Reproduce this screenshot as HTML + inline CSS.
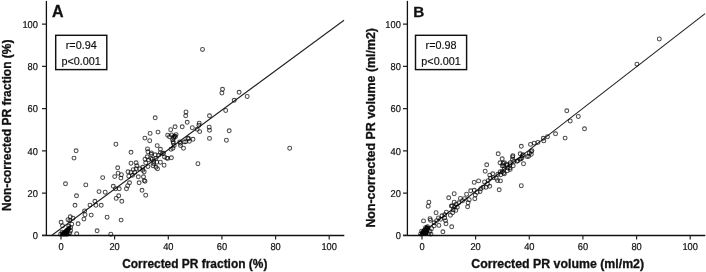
<!DOCTYPE html>
<html><head><meta charset="utf-8"><style>
html,body{margin:0;padding:0;background:#fff;}
svg{display:block;will-change:transform;}
text{font-family:"Liberation Sans",sans-serif;fill:#111;}
.tl{text-rendering:geometricPrecision;font-size:10.0px;stroke:#111;stroke-width:0.22px;}
.bt{font-size:10.8px;stroke:#111;stroke-width:0.18px;}
.pl{font-size:16px;font-weight:bold;stroke:#111;stroke-width:0.3px;}
.at{font-size:12px;font-weight:bold;stroke:#111;stroke-width:0.3px;}
</style></head><body>
<svg width="706" height="272" viewBox="0 0 706 272">
<path d="M46.4 0.9V235.5" stroke="#111" stroke-width="1.3" fill="none"/><path d="M42 235.5H344.3" stroke="#111" stroke-width="1.3" fill="none"/>
<path d="M42 235.3H46.4M61.0 235.3V239.6M42 193.1H46.4M114.6 235.3V239.6M42 150.8H46.4M168.3 235.3V239.6M42 108.6H46.4M221.9 235.3V239.6M42 66.3H46.4M275.6 235.3V239.6M42 24.1H46.4M329.2 235.3V239.6" stroke="#222" stroke-width="1.2" fill="none"/>
<text transform="translate(37.9 239.0) scale(0.93 1)" class="tl" text-anchor="end">0</text>
<text transform="translate(61.0 250.1) scale(0.93 1)" class="tl" text-anchor="middle">0</text>
<text transform="translate(37.9 196.8) scale(0.93 1)" class="tl" text-anchor="end">20</text>
<text transform="translate(114.6 250.1) scale(0.93 1)" class="tl" text-anchor="middle">20</text>
<text transform="translate(37.9 154.5) scale(0.93 1)" class="tl" text-anchor="end">40</text>
<text transform="translate(168.3 250.1) scale(0.93 1)" class="tl" text-anchor="middle">40</text>
<text transform="translate(37.9 112.3) scale(0.93 1)" class="tl" text-anchor="end">60</text>
<text transform="translate(221.9 250.1) scale(0.93 1)" class="tl" text-anchor="middle">60</text>
<text transform="translate(37.9 70.0) scale(0.93 1)" class="tl" text-anchor="end">80</text>
<text transform="translate(275.6 250.1) scale(0.93 1)" class="tl" text-anchor="middle">80</text>
<text transform="translate(37.9 27.8) scale(0.93 1)" class="tl" text-anchor="end">100</text>
<text transform="translate(329.2 250.1) scale(0.93 1)" class="tl" text-anchor="middle">100</text>
<text x="52" y="17" class="pl">A</text>
<rect x="55.7" y="35.3" width="51.1" height="34.3" fill="#fff" stroke="#111" stroke-width="1.45"/>
<text x="81.2" y="49.2" class="bt" text-anchor="middle">r=0.94</text>
<text x="81.2" y="64.6" class="bt" text-anchor="middle">p&lt;0.001</text>
<path d="M51.9 235.3L344 20.2" stroke="#222" stroke-width="1.1" fill="none"/>
<path d="M59.3 235.1L62.5 231.8L66 228.4L68.5 226.4L70.2 226.2L70.8 228.5L69.8 231L68.6 233L69.5 235.1Z" fill="#111"/>
<g fill="none" stroke="#000" stroke-opacity="0.7" stroke-width="1.05"><circle cx="75.0" cy="205.3" r="1.95"/><circle cx="90.0" cy="205.1" r="1.95"/><circle cx="94.9" cy="201.3" r="1.95"/><circle cx="95.9" cy="205.3" r="1.95"/><circle cx="101.2" cy="205.3" r="1.95"/><circle cx="116.2" cy="198.4" r="1.95"/><circle cx="121.8" cy="201.3" r="1.95"/><circle cx="84.6" cy="210.9" r="1.95"/><circle cx="85.0" cy="214.7" r="1.95"/><circle cx="91.2" cy="215.1" r="1.95"/><circle cx="83.9" cy="219.1" r="1.95"/><circle cx="107.1" cy="217.2" r="1.95"/><circle cx="121.1" cy="220.1" r="1.95"/><circle cx="97.1" cy="230.8" r="1.95"/><circle cx="110.8" cy="234.2" r="1.95"/><circle cx="61.1" cy="222.3" r="1.95"/><circle cx="62.5" cy="225.8" r="1.95"/><circle cx="68.0" cy="219.7" r="1.95"/><circle cx="70.3" cy="216.8" r="1.95"/><circle cx="73.0" cy="218.2" r="1.95"/><circle cx="69.8" cy="220.6" r="1.95"/><circle cx="78.1" cy="223.8" r="1.95"/><circle cx="76.7" cy="233.8" r="1.95"/><circle cx="70.7" cy="227.4" r="1.95"/><circle cx="71.7" cy="224.2" r="1.95"/><circle cx="69.8" cy="232.9" r="1.95"/><circle cx="68.0" cy="229.8" r="1.95"/><circle cx="65.7" cy="231.6" r="1.95"/><circle cx="62.9" cy="233.4" r="1.95"/><circle cx="60.6" cy="234.3" r="1.95"/><circle cx="66.1" cy="234.3" r="1.95"/><circle cx="68.7" cy="226.1" r="1.95"/><circle cx="63.6" cy="234.4" r="1.95"/><circle cx="68.3" cy="233.8" r="1.95"/><circle cx="70.6" cy="230.8" r="1.95"/><circle cx="64.1" cy="232.8" r="1.95"/><circle cx="66.6" cy="231.2" r="1.95"/><circle cx="67.1" cy="234.1" r="1.95"/><circle cx="65.1" cy="233.2" r="1.95"/><circle cx="69.1" cy="228.2" r="1.95"/><circle cx="62.1" cy="232.1" r="1.95"/><circle cx="66.9" cy="230.1" r="1.95"/><circle cx="74.0" cy="158.1" r="1.95"/><circle cx="65.5" cy="183.8" r="1.95"/><circle cx="85.8" cy="184.9" r="1.95"/><circle cx="76.5" cy="195.8" r="1.95"/><circle cx="102.7" cy="177.6" r="1.95"/><circle cx="99.0" cy="191.6" r="1.95"/><circle cx="105.2" cy="192.2" r="1.95"/><circle cx="118.7" cy="195.8" r="1.95"/><circle cx="113.3" cy="186.3" r="1.95"/><circle cx="115.5" cy="188.7" r="1.95"/><circle cx="119.2" cy="188.8" r="1.95"/><circle cx="117.7" cy="167.8" r="1.95"/><circle cx="114.7" cy="176.6" r="1.95"/><circle cx="118.1" cy="173.2" r="1.95"/><circle cx="121.4" cy="174.7" r="1.95"/><circle cx="120.9" cy="178.1" r="1.95"/><circle cx="142.0" cy="190.3" r="1.95"/><circle cx="126.5" cy="188.7" r="1.95"/><circle cx="127.7" cy="185.7" r="1.95"/><circle cx="145.7" cy="195.2" r="1.95"/><circle cx="197.9" cy="163.7" r="1.95"/><circle cx="131.0" cy="152.3" r="1.95"/><circle cx="147.5" cy="148.9" r="1.95"/><circle cx="157.2" cy="145.6" r="1.95"/><circle cx="160.4" cy="149.3" r="1.95"/><circle cx="147.9" cy="151.8" r="1.95"/><circle cx="151.3" cy="154.3" r="1.95"/><circle cx="155.2" cy="154.8" r="1.95"/><circle cx="158.6" cy="155.2" r="1.95"/><circle cx="160.4" cy="152.7" r="1.95"/><circle cx="163.6" cy="153.3" r="1.95"/><circle cx="164.5" cy="157.1" r="1.95"/><circle cx="167.7" cy="158.4" r="1.95"/><circle cx="171.4" cy="157.8" r="1.95"/><circle cx="172.9" cy="148.2" r="1.95"/><circle cx="147.2" cy="156.8" r="1.95"/><circle cx="145.0" cy="159.2" r="1.95"/><circle cx="148.6" cy="159.9" r="1.95"/><circle cx="152.3" cy="159.2" r="1.95"/><circle cx="156.0" cy="158.4" r="1.95"/><circle cx="156.7" cy="162.2" r="1.95"/><circle cx="153.8" cy="163.7" r="1.95"/><circle cx="160.4" cy="162.2" r="1.95"/><circle cx="164.1" cy="165.2" r="1.95"/><circle cx="156.0" cy="167.3" r="1.95"/><circle cx="153.0" cy="165.8" r="1.95"/><circle cx="157.5" cy="168.8" r="1.95"/><circle cx="145.7" cy="162.8" r="1.95"/><circle cx="147.9" cy="166.6" r="1.95"/><circle cx="142.7" cy="167.3" r="1.95"/><circle cx="131.0" cy="163.2" r="1.95"/><circle cx="136.1" cy="162.8" r="1.95"/><circle cx="136.9" cy="165.8" r="1.95"/><circle cx="139.8" cy="168.8" r="1.95"/><circle cx="136.1" cy="168.8" r="1.95"/><circle cx="133.2" cy="169.6" r="1.95"/><circle cx="128.0" cy="171.8" r="1.95"/><circle cx="131.0" cy="172.4" r="1.95"/><circle cx="134.7" cy="172.4" r="1.95"/><circle cx="142.7" cy="170.2" r="1.95"/><circle cx="144.2" cy="171.8" r="1.95"/><circle cx="128.8" cy="176.2" r="1.95"/><circle cx="132.5" cy="175.3" r="1.95"/><circle cx="138.3" cy="176.8" r="1.95"/><circle cx="143.5" cy="176.8" r="1.95"/><circle cx="144.2" cy="180.6" r="1.95"/><circle cx="139.1" cy="182.8" r="1.95"/><circle cx="145.0" cy="181.2" r="1.95"/><circle cx="129.5" cy="182.8" r="1.95"/><circle cx="76.1" cy="150.8" r="1.95"/><circle cx="115.9" cy="144.2" r="1.95"/><circle cx="144.9" cy="138.1" r="1.95"/><circle cx="155.2" cy="117.8" r="1.95"/><circle cx="186.0" cy="112.0" r="1.95"/><circle cx="185.7" cy="115.8" r="1.95"/><circle cx="209.5" cy="115.8" r="1.95"/><circle cx="225.7" cy="110.5" r="1.95"/><circle cx="187.2" cy="122.3" r="1.95"/><circle cx="175.1" cy="126.8" r="1.95"/><circle cx="182.2" cy="126.8" r="1.95"/><circle cx="192.3" cy="127.7" r="1.95"/><circle cx="199.2" cy="123.2" r="1.95"/><circle cx="198.9" cy="125.2" r="1.95"/><circle cx="170.7" cy="129.7" r="1.95"/><circle cx="158.0" cy="132.1" r="1.95"/><circle cx="150.1" cy="133.4" r="1.95"/><circle cx="149.7" cy="140.7" r="1.95"/><circle cx="167.7" cy="135.2" r="1.95"/><circle cx="171.7" cy="134.9" r="1.95"/><circle cx="176.1" cy="134.6" r="1.95"/><circle cx="175.4" cy="136.8" r="1.95"/><circle cx="173.6" cy="138.2" r="1.95"/><circle cx="173.2" cy="141.8" r="1.95"/><circle cx="174.2" cy="145.6" r="1.95"/><circle cx="171.0" cy="149.2" r="1.95"/><circle cx="197.2" cy="129.3" r="1.95"/><circle cx="199.7" cy="131.6" r="1.95"/><circle cx="209.2" cy="127.2" r="1.95"/><circle cx="209.5" cy="130.2" r="1.95"/><circle cx="229.2" cy="130.8" r="1.95"/><circle cx="209.5" cy="138.4" r="1.95"/><circle cx="226.4" cy="140.2" r="1.95"/><circle cx="187.9" cy="138.2" r="1.95"/><circle cx="193.0" cy="139.3" r="1.95"/><circle cx="189.4" cy="141.2" r="1.95"/><circle cx="185.7" cy="141.8" r="1.95"/><circle cx="180.5" cy="143.3" r="1.95"/><circle cx="180.5" cy="145.6" r="1.95"/><circle cx="183.5" cy="148.2" r="1.95"/><circle cx="172.5" cy="139.7" r="1.95"/><circle cx="173.9" cy="136.8" r="1.95"/><circle cx="169.5" cy="136.8" r="1.95"/><circle cx="173.3" cy="143.2" r="1.95"/><circle cx="179.7" cy="141.9" r="1.95"/><circle cx="184.2" cy="141.9" r="1.95"/><circle cx="188.7" cy="138.8" r="1.95"/><circle cx="162.3" cy="153.6" r="1.95"/><circle cx="151.4" cy="152.9" r="1.95"/><circle cx="166.8" cy="158.1" r="1.95"/><circle cx="222.5" cy="89.3" r="1.95"/><circle cx="221.9" cy="93.0" r="1.95"/><circle cx="239.1" cy="92.3" r="1.95"/><circle cx="234.2" cy="100.3" r="1.95"/><circle cx="247.2" cy="96.5" r="1.95"/><circle cx="289.7" cy="148.2" r="1.95"/><circle cx="202.5" cy="49.4" r="1.95"/><circle cx="174.7" cy="136.1" r="1.95"/><circle cx="150.9" cy="158.4" r="1.95"/><circle cx="153.7" cy="161.4" r="1.95"/></g>
<text x="122.2" y="267.8" class="at" textLength="145.2" lengthAdjust="spacingAndGlyphs">Corrected PR fraction (%)</text>
<text transform="translate(10.9 211.0) rotate(-90)" x="0" y="0" class="at" textLength="171.5" lengthAdjust="spacingAndGlyphs">Non-corrected PR fraction (%)</text>
<path d="M407.4 0.9V235.5" stroke="#111" stroke-width="1.3" fill="none"/><path d="M403 235.5H705.3" stroke="#111" stroke-width="1.3" fill="none"/>
<path d="M403 235.3H407.4M422.0 235.3V239.6M403 193.1H407.4M475.6 235.3V239.6M403 150.8H407.4M529.3 235.3V239.6M403 108.6H407.4M582.9 235.3V239.6M403 66.3H407.4M636.6 235.3V239.6M403 24.1H407.4M690.2 235.3V239.6" stroke="#222" stroke-width="1.2" fill="none"/>
<text transform="translate(400.79999999999995 239.0) scale(0.93 1)" class="tl" text-anchor="end">0</text>
<text transform="translate(422.0 250.1) scale(0.93 1)" class="tl" text-anchor="middle">0</text>
<text transform="translate(400.79999999999995 196.8) scale(0.93 1)" class="tl" text-anchor="end">20</text>
<text transform="translate(475.6 250.1) scale(0.93 1)" class="tl" text-anchor="middle">20</text>
<text transform="translate(400.79999999999995 154.5) scale(0.93 1)" class="tl" text-anchor="end">40</text>
<text transform="translate(529.3 250.1) scale(0.93 1)" class="tl" text-anchor="middle">40</text>
<text transform="translate(400.79999999999995 112.3) scale(0.93 1)" class="tl" text-anchor="end">60</text>
<text transform="translate(582.9 250.1) scale(0.93 1)" class="tl" text-anchor="middle">60</text>
<text transform="translate(400.79999999999995 70.0) scale(0.93 1)" class="tl" text-anchor="end">80</text>
<text transform="translate(636.6 250.1) scale(0.93 1)" class="tl" text-anchor="middle">80</text>
<text transform="translate(400.79999999999995 27.8) scale(0.93 1)" class="tl" text-anchor="end">100</text>
<text transform="translate(690.2 250.1) scale(0.93 1)" class="tl" text-anchor="middle">100</text>
<text x="413.3" y="16.9" class="pl" style="font-size:15.3px">B</text>
<rect x="415.5" y="35.3" width="51.1" height="34.3" fill="#fff" stroke="#111" stroke-width="1.45"/>
<text x="441.0" y="49.2" class="bt" text-anchor="middle">r=0.98</text>
<text x="441.0" y="64.6" class="bt" text-anchor="middle">p&lt;0.001</text>
<path d="M419.0 235.3L705.1 13.6" stroke="#222" stroke-width="1.1" fill="none"/>
<path d="M419.8 235.1L420.2 231.5L423.5 228.5L425 226L426.5 225L429 226L430.5 228L429.6 230L428.5 232.5L428 235.1Z" fill="#111"/>
<g fill="none" stroke="#000" stroke-opacity="0.7" stroke-width="1.05"><circle cx="428.9" cy="202.2" r="1.95"/><circle cx="428.2" cy="206.2" r="1.95"/><circle cx="448.7" cy="197.8" r="1.95"/><circle cx="423.5" cy="220.9" r="1.95"/><circle cx="442.9" cy="231.8" r="1.95"/><circle cx="430.0" cy="218.7" r="1.95"/><circle cx="430.5" cy="220.2" r="1.95"/><circle cx="431.5" cy="228.7" r="1.95"/><circle cx="430.0" cy="231.2" r="1.95"/><circle cx="427.5" cy="226.7" r="1.95"/><circle cx="425.5" cy="227.7" r="1.95"/><circle cx="421.6" cy="231.2" r="1.95"/><circle cx="424.5" cy="230.2" r="1.95"/><circle cx="423.0" cy="233.6" r="1.95"/><circle cx="426.0" cy="233.1" r="1.95"/><circle cx="429.0" cy="233.6" r="1.95"/><circle cx="431.0" cy="234.1" r="1.95"/><circle cx="420.6" cy="234.1" r="1.95"/><circle cx="423.6" cy="231.8" r="1.95"/><circle cx="427.1" cy="229.8" r="1.95"/><circle cx="426.1" cy="231.2" r="1.95"/><circle cx="424.1" cy="232.8" r="1.95"/><circle cx="486.7" cy="164.8" r="1.95"/><circle cx="485.2" cy="171.2" r="1.95"/><circle cx="502.2" cy="158.8" r="1.95"/><circle cx="500.0" cy="162.8" r="1.95"/><circle cx="504.4" cy="162.8" r="1.95"/><circle cx="503.6" cy="165.8" r="1.95"/><circle cx="506.6" cy="165.1" r="1.95"/><circle cx="508.0" cy="168.1" r="1.95"/><circle cx="510.2" cy="162.8" r="1.95"/><circle cx="512.5" cy="159.2" r="1.95"/><circle cx="513.2" cy="165.8" r="1.95"/><circle cx="510.2" cy="169.4" r="1.95"/><circle cx="507.3" cy="170.7" r="1.95"/><circle cx="516.9" cy="161.3" r="1.95"/><circle cx="519.8" cy="159.2" r="1.95"/><circle cx="522.0" cy="157.8" r="1.95"/><circle cx="523.5" cy="163.7" r="1.95"/><circle cx="527.2" cy="156.6" r="1.95"/><circle cx="502.2" cy="171.7" r="1.95"/><circle cx="504.4" cy="173.8" r="1.95"/><circle cx="500.7" cy="174.7" r="1.95"/><circle cx="489.7" cy="175.1" r="1.95"/><circle cx="490.4" cy="178.3" r="1.95"/><circle cx="493.3" cy="177.6" r="1.95"/><circle cx="496.3" cy="178.3" r="1.95"/><circle cx="497.5" cy="180.6" r="1.95"/><circle cx="500.4" cy="180.9" r="1.95"/><circle cx="488.2" cy="180.6" r="1.95"/><circle cx="484.5" cy="181.9" r="1.95"/><circle cx="478.6" cy="180.9" r="1.95"/><circle cx="474.2" cy="182.4" r="1.95"/><circle cx="487.5" cy="184.2" r="1.95"/><circle cx="489.7" cy="186.3" r="1.95"/><circle cx="486.0" cy="187.2" r="1.95"/><circle cx="483.0" cy="187.2" r="1.95"/><circle cx="480.8" cy="188.7" r="1.95"/><circle cx="499.2" cy="189.8" r="1.95"/><circle cx="521.3" cy="185.7" r="1.95"/><circle cx="477.2" cy="192.2" r="1.95"/><circle cx="480.1" cy="191.6" r="1.95"/><circle cx="498.2" cy="153.8" r="1.95"/><circle cx="512.9" cy="155.7" r="1.95"/><circle cx="521.3" cy="146.3" r="1.95"/><circle cx="520.2" cy="153.8" r="1.95"/><circle cx="523.2" cy="154.8" r="1.95"/><circle cx="531.3" cy="151.6" r="1.95"/><circle cx="531.3" cy="154.2" r="1.95"/><circle cx="530.5" cy="144.4" r="1.95"/><circle cx="534.2" cy="143.1" r="1.95"/><circle cx="537.9" cy="142.4" r="1.95"/><circle cx="543.3" cy="138.3" r="1.95"/><circle cx="543.8" cy="140.9" r="1.95"/><circle cx="547.5" cy="136.8" r="1.95"/><circle cx="555.5" cy="133.8" r="1.95"/><circle cx="565.1" cy="138.1" r="1.95"/><circle cx="570.2" cy="121.0" r="1.95"/><circle cx="578.3" cy="116.5" r="1.95"/><circle cx="584.5" cy="128.8" r="1.95"/><circle cx="522.3" cy="155.7" r="1.95"/><circle cx="521.0" cy="158.9" r="1.95"/><circle cx="528.7" cy="156.3" r="1.95"/><circle cx="529.4" cy="153.2" r="1.95"/><circle cx="531.9" cy="150.6" r="1.95"/><circle cx="512.6" cy="156.8" r="1.95"/><circle cx="517.8" cy="160.8" r="1.95"/><circle cx="513.9" cy="161.4" r="1.95"/><circle cx="503.0" cy="163.4" r="1.95"/><circle cx="506.8" cy="164.1" r="1.95"/><circle cx="510.0" cy="164.8" r="1.95"/><circle cx="510.0" cy="167.9" r="1.95"/><circle cx="504.3" cy="168.6" r="1.95"/><circle cx="502.3" cy="165.9" r="1.95"/><circle cx="503.6" cy="173.1" r="1.95"/><circle cx="500.4" cy="171.8" r="1.95"/><circle cx="497.8" cy="174.3" r="1.95"/><circle cx="492.7" cy="173.8" r="1.95"/><circle cx="566.8" cy="110.8" r="1.95"/><circle cx="659.3" cy="39.0" r="1.95"/><circle cx="636.9" cy="64.2" r="1.95"/><circle cx="436.1" cy="212.7" r="1.95"/><circle cx="446.4" cy="212.1" r="1.95"/><circle cx="451.3" cy="206.1" r="1.95"/><circle cx="452.6" cy="212.7" r="1.95"/><circle cx="450.4" cy="215.2" r="1.95"/><circle cx="442.0" cy="215.8" r="1.95"/><circle cx="444.7" cy="214.8" r="1.95"/><circle cx="438.5" cy="217.9" r="1.95"/><circle cx="440.7" cy="219.2" r="1.95"/><circle cx="444.7" cy="217.9" r="1.95"/><circle cx="445.5" cy="220.6" r="1.95"/><circle cx="446.0" cy="223.7" r="1.95"/><circle cx="436.7" cy="220.6" r="1.95"/><circle cx="434.1" cy="222.8" r="1.95"/><circle cx="438.9" cy="225.4" r="1.95"/><circle cx="434.1" cy="225.8" r="1.95"/><circle cx="451.7" cy="226.8" r="1.95"/><circle cx="454.2" cy="193.7" r="1.95"/><circle cx="460.4" cy="198.4" r="1.95"/><circle cx="466.6" cy="194.2" r="1.95"/><circle cx="470.7" cy="190.8" r="1.95"/><circle cx="474.3" cy="190.3" r="1.95"/><circle cx="475.3" cy="195.1" r="1.95"/><circle cx="474.8" cy="198.7" r="1.95"/><circle cx="469.2" cy="199.7" r="1.95"/><circle cx="468.1" cy="202.8" r="1.95"/><circle cx="467.6" cy="206.8" r="1.95"/><circle cx="464.5" cy="198.7" r="1.95"/><circle cx="462.5" cy="200.7" r="1.95"/><circle cx="458.9" cy="202.8" r="1.95"/><circle cx="456.3" cy="204.2" r="1.95"/><circle cx="454.2" cy="202.2" r="1.95"/><circle cx="452.2" cy="205.8" r="1.95"/><circle cx="454.7" cy="206.8" r="1.95"/><circle cx="457.3" cy="207.3" r="1.95"/><circle cx="453.2" cy="209.9" r="1.95"/><circle cx="455.8" cy="210.4" r="1.95"/></g>
<text x="471.3" y="267.8" class="at" textLength="172.8" lengthAdjust="spacingAndGlyphs">Corrected PR volume (ml/m2)</text>
<text transform="translate(374.7 227.6) rotate(-90)" x="0" y="0" class="at" textLength="199.6" lengthAdjust="spacingAndGlyphs">Non-corrected PR volume (ml/m2)</text>
</svg>
</body></html>
